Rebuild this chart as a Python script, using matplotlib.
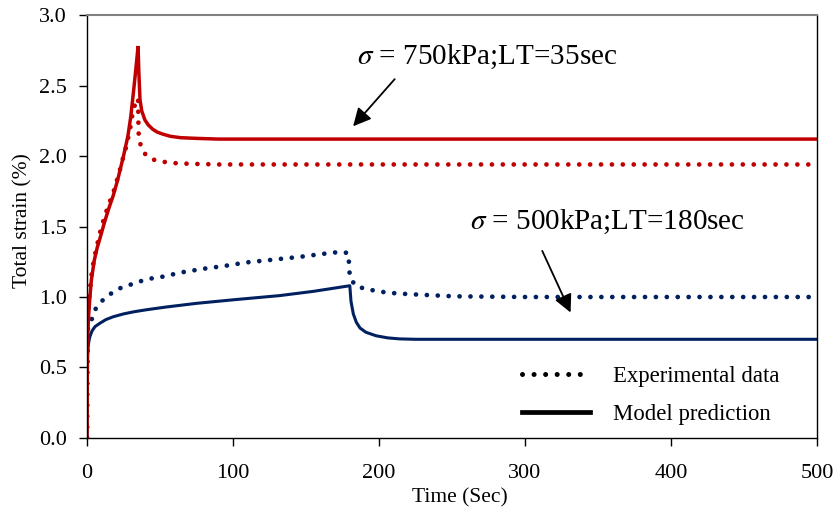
import matplotlib.pyplot as plt
from matplotlib.lines import Line2D

plt.rcParams['font.family'] = 'Liberation Serif'
plt.rcParams['mathtext.fontset'] = 'stix'

# sigma = 750 kPa, LT = 35 sec
t_750_model = [0, 0.2, 0.5, 1, 2, 3, 5, 7, 9, 12, 15, 18, 21, 25, 28, 30, 32, 33.5, 35,
               35.5, 36.3, 37.5, 39.7, 42, 45, 48, 52, 57, 64, 75, 90, 120, 500]
s_750_model = [0, 0.45, 0.7, 0.85, 1.0, 1.12, 1.26, 1.35, 1.42, 1.53, 1.63, 1.72, 1.83, 2.0, 2.14, 2.28, 2.47, 2.62, 2.78,
               2.6, 2.40, 2.32, 2.255, 2.22, 2.19, 2.17, 2.155, 2.14, 2.13, 2.125, 2.12, 2.12, 2.12]

t_750_exp = [0, 0.3, 0.7, 1.2, 2, 3, 4.5, 6.5, 9, 12, 15, 18, 20, 22, 24, 26.2, 27.8, 29.5, 30.5, 31.7, 33.5, 35,
             35.3, 36, 38.6, 41, 44.3, 48, 51.6, 59, 70, 90, 500]
s_750_exp = [0, 0.55, 0.8, 0.93, 1.05, 1.15, 1.25, 1.35, 1.46, 1.57, 1.66, 1.74, 1.81, 1.88, 1.96, 2.04, 2.11, 2.19, 2.26, 2.33, 2.38, 2.41,
             2.17, 2.10, 2.03, 2.00, 1.98, 1.965, 1.96, 1.95, 1.945, 1.94, 1.94]

# sigma = 500 kPa, LT = 180 sec
t_500_model = [0, 0.1, 0.3, 0.7, 1.2, 2, 3.5, 5.5, 9, 13, 18, 25, 32, 41, 55, 75, 100, 132, 155, 180,
               180.8, 182.4, 184.5, 187, 191, 198, 206, 214, 225, 240, 500]
s_500_model = [0, 0.4, 0.58, 0.64, 0.68, 0.72, 0.76, 0.79, 0.815, 0.84, 0.86, 0.88, 0.895, 0.91, 0.93, 0.955, 0.98, 1.01, 1.04, 1.08,
               0.97, 0.88, 0.82, 0.78, 0.75, 0.725, 0.71, 0.703, 0.70, 0.70, 0.70]

t_500_exp = [0, 0.1, 0.2, 1, 3.2, 5.5, 10, 15.8, 22, 29, 36, 43, 50, 65, 79.5, 94, 109, 123, 146, 167.6, 175, 179,
             179.6, 180, 184, 191.6, 206, 221, 251, 300, 500]
s_500_exp = [0, 0.5, 0.77, 0.8, 0.84, 0.91, 0.97, 1.02, 1.06, 1.085, 1.11, 1.13, 1.14, 1.175, 1.2, 1.22, 1.245, 1.26, 1.285, 1.314, 1.32, 1.31,
             1.215, 1.14, 1.078, 1.055, 1.03, 1.02, 1.005, 1.0, 1.0]

red = '#C00000'
blue = '#002060'
dots = (0, (0.01, 2.3))

fig = plt.figure(figsize=(8.38, 5.09), dpi=100)
ax = fig.add_axes([0.1038, 0.1395, 0.8712, 0.8310])

ax.plot(t_500_exp, s_500_exp, color=blue, lw=3.4, linestyle=dots, dash_capstyle='round')
ax.plot(t_500_model, s_500_model, color=blue, lw=2.2, solid_joinstyle='round')
ax.plot(t_750_exp, s_750_exp, color=red, lw=3.4, linestyle=dots, dash_capstyle='round')
ax.plot(t_750_model, s_750_model, color=red, lw=2.5, solid_joinstyle='miter')

ax.set_xlim(0, 500)
ax.set_ylim(0, 3.0)
ax.set_xticks([0, 100, 200, 300, 400, 500])
ax.set_yticks([0, 0.5, 1.0, 1.5, 2.0, 2.5, 3.0])
ax.set_yticklabels(['0.0', '0.5', '1.0', '1.5', '2.0', '2.5', '3.0'])
ax.tick_params(direction='out', length=5.5, width=1, labelsize=16)
ax.tick_params(axis='x', pad=13)
ax.tick_params(axis='y', pad=9)
ax.spines['top'].set_color('#808080')
ax.spines['top'].set_linewidth(1.5)
for side in ['left', 'bottom', 'right']:
    ax.spines[side].set_color('black')
    ax.spines[side].set_linewidth(1.0)

ax.set_xlabel('Time (Sec)', fontsize=15.5)
ax.xaxis.set_label_coords(0.511, -0.118)
ax.set_ylabel('Total strain (%)', fontsize=15.5)
ax.yaxis.set_label_coords(-0.075, 0.515)

ax.annotate('', xy=(181, 2.196), xytext=(212, 2.56),
            arrowprops=dict(arrowstyle='-|>', color='black', lw=1.3, mutation_scale=27))
ax.text(185, 2.70, r'$\sigma$ = 750kPa;LT=35sec', fontsize=21, va='center', ha='left')

ax.annotate('', xy=(332, 0.872), xytext=(311, 1.345),
            arrowprops=dict(arrowstyle='-|>', color='black', lw=1.3, mutation_scale=27))
ax.text(262, 1.53, r'$\sigma$ = 500kPa;LT=180sec', fontsize=21, va='center', ha='left')

handles = [Line2D([], [], color='black', lw=3.6, linestyle=dots, dash_capstyle='round'),
           Line2D([], [], color='black', lw=3.4)]
ax.legend(handles, ['Experimental data', 'Model prediction'], frameon=False, fontsize=16.4,
          handlelength=3.0, handletextpad=1.0, labelspacing=0.75, borderpad=0, borderaxespad=0,
          loc='upper left', bbox_to_anchor=(0.596, 0.170))

fig.savefig('out.png', dpi=100)
